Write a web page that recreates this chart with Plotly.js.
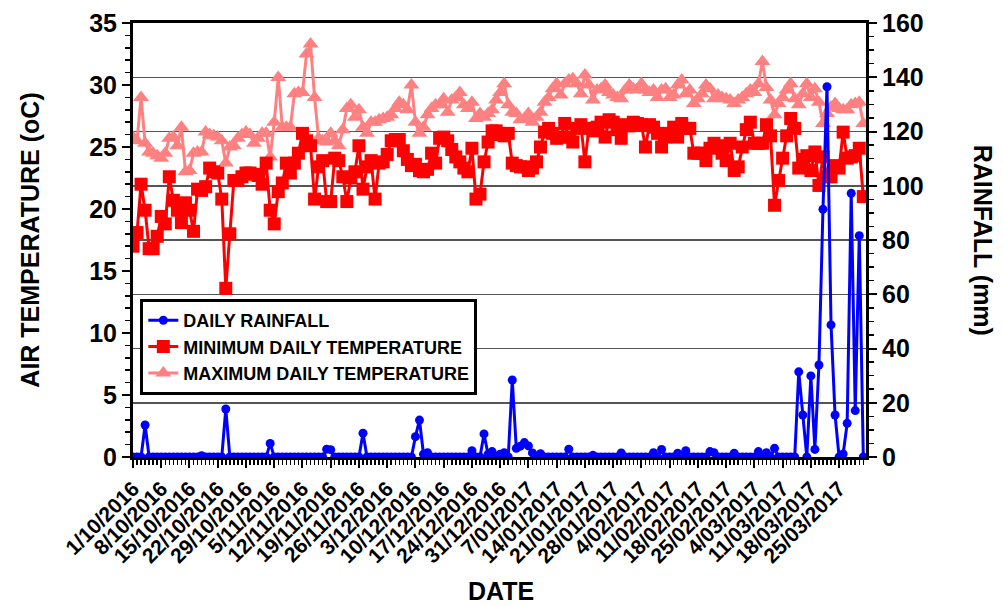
<!DOCTYPE html>
<html>
<head>
<meta charset="utf-8">
<script src="https://cdn.plot.ly/plotly-3.0.1.min.js"></script>
<style>html,body{margin:0;padding:0;background:#fff;}#chart{width:1003px;height:606px;}</style>
</head>
<body>
<div id="chart"></div>
<script>
// ---- DATA (daily, 1 Oct 2016 to 31 Mar 2017) ----
const startDate = "2016-10-01";

const rainfall = [
  0,0,0,11.8,0,0,0,0,0,0,
  0,0,0,0,0,0,0,0.5,0,0,
  0,0,0,17.7,0,0,0,0,0,0,
  0,0,0,0,5.0,0,0,0,0,0,
  0,0,0,0,0,0,0,0,2.9,2.7,
  0,0,0,0,0,0,0,8.8,0,0,
  0,0,0,0,0,0,0,0,0,0,
  7.5,13.6,1.0,1.6,0,0,0,0,0,0,
  0,0,0,0,2.3,0,0,8.5,1.0,2.0,
  0,1.0,1.6,0,28.4,3.2,4.0,5.3,4.1,1.5,
  0,1.2,0,0,0,0,0,0,2.9,0,
  0,0,0,0,0.6,0,0,0,0,0,
  0,1.5,0,0,0,0,0,0,0,1.6,
  0,2.8,0,0,0,1.4,0,2.3,0,0,
  0,0,0,2.0,1.6,0,0,0,0,1.4,
  0,0,0,0,0,2.0,0,1.6,0,3.2,
  0,0,0,0,0,31.4,15.5,0,29.9,2.8,
  33.9,91.3,136.5,48.7,15.5,0,1.1,12.4,97.2,17.1,
  81.6,0
];

const minTemp = [
  17.0,18.1,22.0,19.9,16.8,16.8,17.8,19.4,18.8,22.6,
  20.7,19.9,18.9,20.5,19.9,18.2,21.6,21.5,21.8,23.3,
  23.0,22.9,20.8,13.6,18.0,22.3,22.3,22.6,22.9,22.9,
  22.8,22.7,22.0,23.7,19.9,18.8,21.4,22.1,23.7,22.9,
  23.7,24.5,26.1,25.5,25.1,20.8,23.4,23.9,20.6,20.6,
  24.1,23.9,22.6,20.6,22.5,23.0,25.1,21.6,23.4,23.9,
  20.8,23.7,23.8,24.4,25.5,25.6,25.6,24.7,24.0,23.5,
  23.6,23.1,23.0,23.2,24.5,23.7,25.7,25.8,25.5,24.8,
  24.2,23.8,23.3,23.0,24.9,20.8,21.2,23.8,25.4,26.3,
  26.3,26.0,25.9,26.1,23.7,23.5,23.4,23.4,23.1,23.3,
  23.8,25.0,26.2,26.5,26.1,25.7,25.8,26.9,25.8,25.4,
  26.5,26.8,23.8,26.5,26.3,26.6,27.0,25.8,27.2,27.0,
  26.4,25.7,26.8,26.7,27.0,26.9,26.8,25.0,26.8,26.6,
  26.1,25.0,25.8,26.1,26.6,25.8,26.9,26.5,26.5,24.5,
  24.5,24.5,23.9,24.9,25.3,25.1,24.5,23.9,25.3,23.1,
  23.4,25.0,26.4,27.0,25.3,25.3,25.3,26.8,25.9,20.3,
  22.3,24.1,25.9,27.3,26.5,23.3,24.0,24.3,23.1,24.6,
  21.9,24.2,22.6,22.6,23.5,23.3,26.2,24.1,24.2,24.3,
  24.9,21.0
];

const maxTemp = [
  25.8,25.5,29.0,25.3,24.6,24.5,24.3,24.1,24.5,25.7,
  25.8,25.1,26.6,23.0,23.1,24.5,24.6,24.6,26.2,26.0,
  25.9,25.8,25.5,23.7,25.0,25.1,25.7,26.0,26.2,26.0,
  25.3,25.7,26.1,26.1,24.2,27.0,30.6,26.6,26.6,26.6,
  29.3,29.4,29.4,32.5,33.3,29.0,25.7,25.5,25.4,26.1,
  25.5,25.1,26.4,28.1,28.4,27.4,28.0,26.6,26.1,27.0,
  27.0,27.2,27.3,27.4,27.6,28.1,28.6,28.4,28.0,30.0,
  27.0,26.1,26.6,27.6,28.1,28.4,28.4,28.9,27.8,28.8,
  29.0,29.4,28.4,28.1,28.6,27.3,27.7,27.4,27.7,28.0,
  28.8,29.4,30.1,28.4,27.8,27.7,27.2,27.3,27.7,27.0,
  27.4,27.8,28.6,29.0,29.7,30.1,29.2,30.1,30.4,30.5,
  30.1,29.3,30.8,30.0,28.8,29.6,29.7,30.0,29.4,29.2,
  29.0,28.9,29.6,30.0,29.7,29.6,30.1,29.6,29.4,29.6,
  29.0,29.6,29.7,29.0,29.2,30.0,30.4,29.3,29.6,28.5,
  28.9,29.3,30.0,29.7,28.9,29.2,29.0,28.9,28.8,28.5,
  28.8,29.0,29.3,29.6,29.4,30.1,31.9,29.8,28.8,27.6,
  28.5,29.0,29.6,30.1,28.9,28.4,29.3,30.1,29.0,29.7,
  28.6,26.9,27.7,28.2,28.5,28.1,28.0,28.0,28.4,28.5,
  28.6,26.9
];

const tickLabels = ["1/10/2016","8/10/2016","15/10/2016","22/10/2016","29/10/2016",
  "5/11/2016","12/11/2016","19/11/2016","26/11/2016","3/12/2016","10/12/2016",
  "17/12/2016","24/12/2016","31/12/2016","7/01/2017","14/01/2017","21/01/2017",
  "28/01/2017","4/02/2017","11/02/2017","18/02/2017","25/02/2017","4/03/2017",
  "11/03/2017","18/03/2017","25/03/2017"];

const seriesNames = ["DAILY RAINFALL","MINIMUM DAILY TEMPERATURE","MAXIMUM DAILY TEMPERATURE"];

// ---- build date axis values ----
function isoDay(i){
  const d = new Date(startDate + "T00:00:00Z");
  d.setUTCDate(d.getUTCDate() + i);
  return d.toISOString().slice(0,10);
}
const dates = rainfall.map((_, i) => isoDay(i));
const tickVals = tickLabels.map((_, i) => isoDay(i*7));

const FONT = "Arial, 'Liberation Sans', sans-serif";

const traces = [
  {
    x: dates, y: maxTemp, name: seriesNames[2], type: "scatter", mode: "lines+markers",
    line: {color: "#ff8080", width: 3},
    marker: {symbol: "triangle-up", size: 14, color: "#ff8080"},
    yaxis: "y"
  },
  {
    x: dates, y: minTemp, name: seriesNames[1], type: "scatter", mode: "lines+markers",
    line: {color: "#ff0000", width: 3},
    marker: {symbol: "square", size: 13, color: "#ff0000"},
    yaxis: "y"
  },
  {
    x: dates, y: rainfall, name: seriesNames[0], type: "scatter", mode: "lines+markers",
    line: {color: "#0000ff", width: 3},
    marker: {symbol: "circle", size: 9, color: "#0000ff"},
    yaxis: "y2"
  }
];

const layout = {
  width: 1003, height: 606,
  margin: {l: 133, r: 137, t: 23, b: 149},
  paper_bgcolor: "#fff", plot_bgcolor: "#fff",
  showlegend: true,
  legend: {
    x: 0.01, y: 0.364, xanchor: "left", yanchor: "top",
    bgcolor: "#fff", bordercolor: "#000", borderwidth: 3,
    traceorder: "reversed", itemwidth: 30,
    font: {family: FONT, size: 18, color: "#000", weight: "bold"},
    tracegroupgap: 0
  },
  xaxis: {
    type: "date",
    range: ["2016-10-01", "2017-03-31 16:00"],
    tickmode: "array", tickvals: tickVals, ticktext: tickLabels,
    tickangle: -45,
    ticks: "outside", ticklen: 8, tickwidth: 2, tickcolor: "#000",
    minor: {dtick: 86400000, ticks: "outside", ticklen: 5, tickwidth: 1.5, tickcolor: "#000", showgrid: false},
    showline: true, linecolor: "#000", linewidth: 3, mirror: true,
    showgrid: false, zeroline: false,
    tickfont: {family: FONT, size: 21, color: "#000", weight: "bold"}
  },
  yaxis: {
    range: [0, 35], dtick: 5, tick0: 0,
    ticks: "outside", ticklen: 8, tickwidth: 2, tickcolor: "#000",
    minor: {dtick: 1, ticks: "outside", ticklen: 5, tickwidth: 1.5, tickcolor: "#000", showgrid: false},
    showline: true, linecolor: "#000", linewidth: 3,
    showgrid: false, zeroline: false,
    tickfont: {family: FONT, size: 25, color: "#000", weight: "bold"}
  },
  yaxis2: {
    range: [0, 160], dtick: 20, tick0: 0,
    overlaying: "y", side: "right",
    ticks: "outside", ticklen: 8, tickwidth: 2, tickcolor: "#000",
    minor: {dtick: 5, ticks: "outside", ticklen: 5, tickwidth: 1.5, tickcolor: "#000", showgrid: false},
    showline: true, linecolor: "#000", linewidth: 3,
    showgrid: true, gridcolor: "#555", gridwidth: 1.5, zeroline: false,
    tickfont: {family: FONT, size: 25, color: "#000", weight: "bold"}
  },
  annotations: [
    {text: "DATE", xref: "paper", yref: "paper", x: 0.502, y: -0.308, xanchor: "center", yanchor: "middle",
     showarrow: false, font: {family: FONT, size: 25, color: "#000", weight: "bold"}},
    {text: "AIR TEMPERATURE (oC)", xref: "paper", yref: "paper", x: -0.141, y: 0.5, xanchor: "center", yanchor: "middle",
     textangle: -90, showarrow: false, font: {family: FONT, size: 25, color: "#000", weight: "bold"}},
    {text: "RAINFALL (mm)", xref: "paper", yref: "paper", x: 1.16, y: 0.5, xanchor: "center", yanchor: "middle",
     textangle: 90, showarrow: false, font: {family: FONT, size: 25, color: "#000", weight: "bold"}}
  ]
};

Plotly.newPlot("chart", traces, layout, {displayModeBar: false, staticPlot: true});
</script>
</body>
</html>
